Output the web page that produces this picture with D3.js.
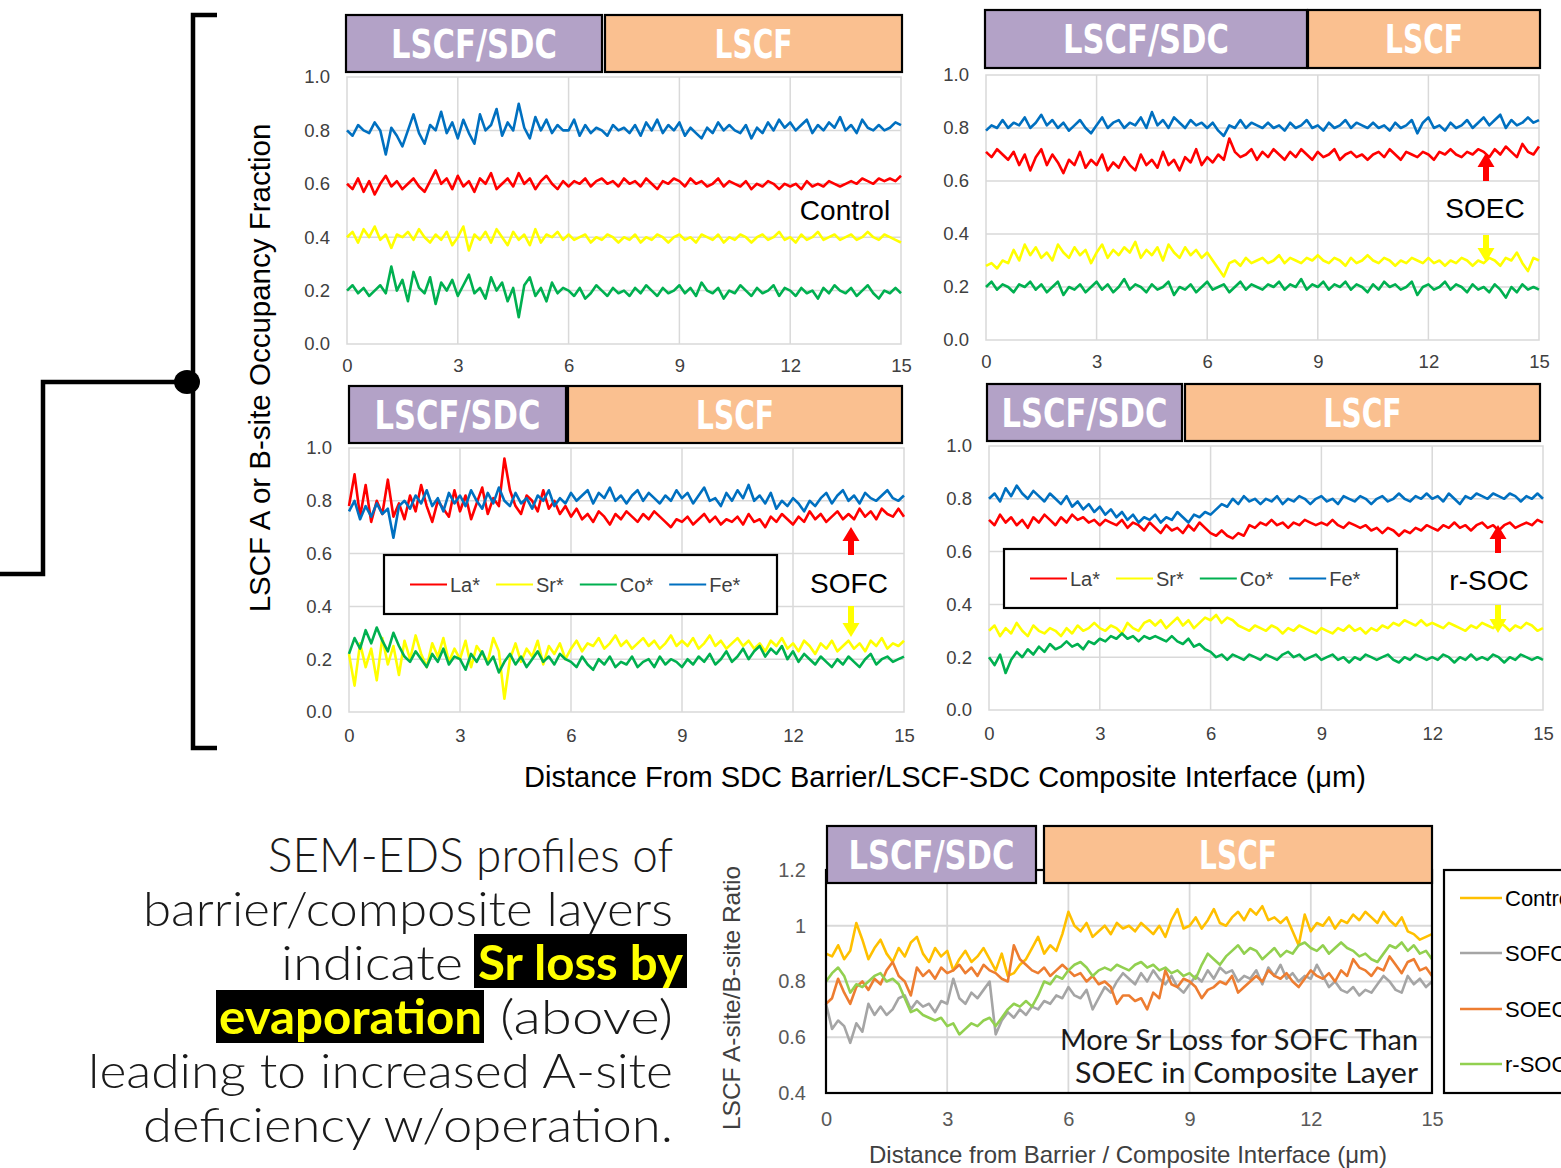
<!DOCTYPE html>
<html><head><meta charset="utf-8">
<script src="https://cdn.jsdelivr.net/npm/d3@7"></script>
<style>body{margin:0;background:#fff}svg{display:block}</style>
</head><body>
<svg id="c" width="1561" height="1168"></svg>
<script>
// ---------------- DATA ----------------
const layers = ['LSCF/SDC', 'LSCF'];
const elements = ['La*', 'Sr*', 'Co*', 'Fe*'];
const conditions = ['Control', 'SOFC', 'SOEC', 'r-SOC'];
const occTicks = [0, 0.2, 0.4, 0.6, 0.8, 1.0];
const distTicks = [0, 3, 6, 9, 12, 15];
const ratioTicks = [0.4, 0.6, 0.8, 1, 1.2];

// Control panel (samples every 0.15 um from 0 to 15)
const ctrlFe = [0.80,0.78,0.82,0.80,0.79,0.83,0.80,0.71,0.81,0.78, 0.74,0.80,0.86,0.79,0.75,0.82,0.80,0.87,0.79,0.83,
 0.77,0.84,0.79,0.75,0.86,0.80,0.82,0.88,0.78,0.83, 0.80,0.90,0.81,0.77,0.85,0.80,0.84,0.79,0.82,0.80,
 0.80,0.84,0.78,0.82,0.79,0.81,0.80,0.78,0.82,0.80, 0.81,0.79,0.82,0.78,0.83,0.80,0.84,0.79,0.82,0.80,
 0.83,0.78,0.81,0.79,0.77,0.81,0.79,0.83,0.80,0.82, 0.80,0.79,0.82,0.77,0.81,0.79,0.83,0.80,0.84,0.81,
 0.83,0.80,0.82,0.84,0.79,0.82,0.80,0.83,0.81,0.85, 0.80,0.82,0.79,0.84,0.81,0.80,0.82,0.80,0.81,0.83, 0.82];
const ctrlLa = [0.60,0.58,0.62,0.57,0.61,0.56,0.60,0.63,0.59,0.61, 0.58,0.60,0.62,0.59,0.57,0.61,0.65,0.60,0.62,0.58,
 0.63,0.59,0.61,0.57,0.62,0.60,0.64,0.58,0.60,0.62, 0.59,0.64,0.60,0.62,0.58,0.61,0.63,0.60,0.58,0.61,
 0.59,0.61,0.60,0.62,0.59,0.61,0.62,0.60,0.61,0.59, 0.62,0.60,0.61,0.59,0.62,0.60,0.58,0.61,0.60,0.62,
 0.61,0.59,0.62,0.60,0.61,0.59,0.60,0.62,0.59,0.61, 0.60,0.59,0.61,0.58,0.60,0.59,0.61,0.60,0.58,0.60,
 0.59,0.60,0.58,0.61,0.59,0.60,0.59,0.61,0.60,0.59, 0.60,0.61,0.60,0.62,0.61,0.60,0.62,0.61,0.62,0.61, 0.63];
const ctrlSr = [0.40,0.42,0.38,0.43,0.40,0.44,0.39,0.41,0.36,0.41, 0.40,0.42,0.39,0.43,0.40,0.38,0.41,0.39,0.42,0.37,
 0.40,0.44,0.35,0.41,0.39,0.42,0.38,0.43,0.40,0.37, 0.42,0.39,0.41,0.37,0.43,0.38,0.41,0.40,0.42,0.39,
 0.41,0.39,0.40,0.41,0.38,0.40,0.39,0.41,0.40,0.38, 0.40,0.39,0.41,0.38,0.40,0.39,0.41,0.40,0.38,0.40,
 0.41,0.39,0.40,0.38,0.41,0.40,0.39,0.41,0.38,0.40, 0.39,0.41,0.40,0.38,0.40,0.41,0.39,0.40,0.42,0.39,
 0.40,0.38,0.41,0.39,0.40,0.42,0.39,0.40,0.41,0.39, 0.40,0.41,0.39,0.40,0.42,0.40,0.39,0.41,0.40,0.39, 0.38];
const ctrlCo = [0.20,0.22,0.19,0.21,0.18,0.20,0.22,0.19,0.29,0.20, 0.24,0.16,0.27,0.21,0.19,0.25,0.15,0.23,0.20,0.24,
 0.18,0.22,0.26,0.19,0.21,0.17,0.25,0.20,0.23,0.16, 0.21,0.10,0.22,0.25,0.18,0.21,0.16,0.23,0.19,0.21,
 0.20,0.18,0.21,0.17,0.19,0.22,0.20,0.18,0.21,0.19, 0.20,0.18,0.21,0.19,0.22,0.20,0.18,0.21,0.19,0.20,
 0.22,0.19,0.21,0.18,0.23,0.20,0.19,0.21,0.17,0.20, 0.19,0.22,0.20,0.18,0.21,0.19,0.20,0.22,0.18,0.21,
 0.20,0.18,0.21,0.19,0.20,0.17,0.21,0.19,0.22,0.20, 0.19,0.21,0.18,0.20,0.22,0.19,0.17,0.20,0.19,0.21, 0.19];

// SOEC panel
const soecFe = [0.79,0.81,0.80,0.83,0.80,0.82,0.81,0.84,0.80,0.82, 0.85,0.81,0.83,0.80,0.82,0.79,0.81,0.83,0.80,0.78,
 0.81,0.84,0.80,0.82,0.83,0.80,0.82,0.81,0.84,0.80, 0.86,0.81,0.83,0.80,0.84,0.82,0.80,0.83,0.81,0.82,
 0.80,0.82,0.79,0.77,0.81,0.80,0.83,0.80,0.82,0.81, 0.80,0.82,0.80,0.81,0.79,0.82,0.80,0.81,0.83,0.80,
 0.81,0.79,0.82,0.80,0.81,0.83,0.80,0.82,0.81,0.80, 0.82,0.80,0.81,0.79,0.82,0.80,0.81,0.83,0.78,0.82,
 0.84,0.80,0.81,0.79,0.82,0.80,0.81,0.83,0.80,0.82, 0.84,0.81,0.83,0.85,0.80,0.83,0.81,0.82,0.84,0.82, 0.83];
const soecLa = [0.71,0.69,0.72,0.70,0.68,0.71,0.66,0.70,0.64,0.69, 0.72,0.66,0.70,0.67,0.63,0.68,0.66,0.71,0.65,0.68,
 0.66,0.70,0.64,0.67,0.65,0.69,0.66,0.64,0.70,0.66, 0.68,0.65,0.71,0.66,0.68,0.64,0.69,0.67,0.72,0.66,
 0.69,0.67,0.70,0.68,0.76,0.71,0.69,0.70,0.72,0.68, 0.71,0.69,0.72,0.70,0.68,0.71,0.69,0.72,0.70,0.68,
 0.71,0.69,0.70,0.72,0.68,0.70,0.71,0.69,0.70,0.68, 0.70,0.71,0.69,0.72,0.70,0.68,0.71,0.70,0.69,0.71,
 0.70,0.68,0.71,0.70,0.72,0.70,0.69,0.71,0.70,0.72, 0.71,0.69,0.72,0.70,0.73,0.71,0.69,0.74,0.71,0.70, 0.73];
const soecSr = [0.28,0.29,0.27,0.30,0.29,0.34,0.30,0.36,0.32,0.35, 0.31,0.33,0.30,0.36,0.33,0.31,0.35,0.32,0.34,0.29,
 0.33,0.36,0.31,0.34,0.32,0.35,0.33,0.37,0.31,0.34, 0.32,0.35,0.30,0.36,0.33,0.31,0.35,0.32,0.34,0.31,
 0.33,0.30,0.27,0.24,0.29,0.30,0.28,0.31,0.29,0.30, 0.31,0.29,0.30,0.32,0.29,0.31,0.30,0.29,0.31,0.30,
 0.32,0.30,0.29,0.31,0.30,0.28,0.31,0.29,0.30,0.32, 0.30,0.29,0.31,0.30,0.28,0.30,0.29,0.31,0.30,0.29,
 0.31,0.29,0.30,0.28,0.30,0.29,0.31,0.30,0.28,0.30, 0.29,0.31,0.30,0.28,0.31,0.30,0.33,0.29,0.26,0.31, 0.30];
const soecCo = [0.20,0.22,0.19,0.21,0.20,0.18,0.21,0.20,0.22,0.19, 0.21,0.18,0.20,0.22,0.17,0.20,0.19,0.21,0.18,0.20,
 0.22,0.19,0.21,0.18,0.20,0.23,0.19,0.21,0.20,0.18, 0.21,0.19,0.20,0.22,0.17,0.20,0.19,0.21,0.18,0.20,
 0.22,0.19,0.20,0.21,0.18,0.20,0.22,0.19,0.21,0.20, 0.19,0.21,0.20,0.22,0.19,0.21,0.20,0.23,0.19,0.21,
 0.20,0.22,0.19,0.21,0.20,0.22,0.19,0.21,0.20,0.18, 0.21,0.19,0.22,0.20,0.21,0.19,0.20,0.22,0.17,0.20,
 0.21,0.19,0.20,0.22,0.19,0.21,0.20,0.18,0.21,0.19, 0.20,0.18,0.21,0.19,0.16,0.20,0.18,0.21,0.19,0.20, 0.19];

// SOFC panel
const sofcFe = [0.76,0.80,0.73,0.78,0.74,0.79,0.75,0.77,0.66,0.78, 0.80,0.77,0.82,0.79,0.84,0.78,0.81,0.76,0.83,0.79,
 0.82,0.78,0.84,0.80,0.77,0.83,0.79,0.85,0.80,0.78, 0.83,0.79,0.81,0.77,0.82,0.80,0.84,0.78,0.81,0.79,
 0.83,0.80,0.82,0.84,0.79,0.83,0.81,0.85,0.80,0.82, 0.79,0.82,0.84,0.80,0.83,0.81,0.79,0.82,0.80,0.84,
 0.81,0.83,0.79,0.82,0.85,0.80,0.81,0.78,0.83,0.80, 0.84,0.81,0.86,0.80,0.82,0.79,0.83,0.77,0.80,0.78,
 0.81,0.79,0.76,0.80,0.78,0.81,0.83,0.79,0.82,0.84, 0.80,0.82,0.79,0.83,0.81,0.80,0.82,0.84,0.81,0.80, 0.82];
const sofcLa = [0.78,0.90,0.74,0.86,0.72,0.80,0.75,0.88,0.74,0.79, 0.73,0.82,0.76,0.86,0.78,0.72,0.80,0.77,0.74,0.84,
 0.76,0.82,0.73,0.79,0.85,0.75,0.81,0.78,0.96,0.84, 0.78,0.75,0.82,0.80,0.76,0.84,0.77,0.80,0.75,0.78,
 0.74,0.77,0.73,0.75,0.72,0.76,0.74,0.71,0.75,0.73, 0.76,0.74,0.72,0.75,0.73,0.76,0.74,0.72,0.70,0.73,
 0.72,0.74,0.71,0.73,0.75,0.72,0.74,0.71,0.73,0.72, 0.74,0.71,0.75,0.72,0.73,0.70,0.74,0.72,0.75,0.73,
 0.71,0.74,0.72,0.76,0.73,0.75,0.72,0.74,0.76,0.73, 0.75,0.73,0.77,0.74,0.76,0.73,0.77,0.75,0.74,0.77, 0.74];
const sofcSr = [0.22,0.10,0.26,0.17,0.24,0.12,0.28,0.18,0.25,0.14, 0.27,0.20,0.29,0.22,0.17,0.26,0.21,0.28,0.19,0.24,
 0.20,0.27,0.17,0.25,0.22,0.19,0.28,0.23,0.05,0.20, 0.26,0.19,0.24,0.21,0.27,0.18,0.25,0.22,0.26,0.20,
 0.24,0.27,0.23,0.26,0.25,0.28,0.24,0.26,0.29,0.25, 0.27,0.24,0.26,0.28,0.25,0.27,0.24,0.26,0.29,0.25,
 0.27,0.25,0.28,0.24,0.26,0.29,0.25,0.27,0.24,0.26, 0.28,0.25,0.27,0.24,0.26,0.23,0.27,0.25,0.28,0.24,
 0.26,0.23,0.27,0.25,0.22,0.26,0.24,0.27,0.23,0.25, 0.27,0.24,0.26,0.23,0.27,0.25,0.28,0.24,0.26,0.25, 0.27];
const sofcCo = [0.22,0.28,0.24,0.31,0.26,0.32,0.27,0.23,0.30,0.25, 0.21,0.19,0.23,0.20,0.17,0.22,0.19,0.24,0.18,0.21,
 0.20,0.16,0.22,0.19,0.23,0.18,0.21,0.15,0.19,0.22, 0.18,0.21,0.17,0.20,0.23,0.19,0.21,0.18,0.22,0.20,
 0.19,0.17,0.21,0.18,0.16,0.20,0.18,0.21,0.17,0.19, 0.18,0.21,0.17,0.19,0.20,0.17,0.21,0.18,0.20,0.19,
 0.17,0.20,0.18,0.21,0.19,0.22,0.18,0.20,0.23,0.19, 0.21,0.24,0.20,0.23,0.25,0.21,0.24,0.22,0.25,0.20,
 0.23,0.19,0.22,0.20,0.18,0.21,0.19,0.17,0.20,0.18, 0.21,0.19,0.17,0.20,0.22,0.18,0.20,0.21,0.19,0.20, 0.21];

// r-SOC panel
const rsocFe = [0.80,0.82,0.79,0.84,0.81,0.85,0.82,0.80,0.83,0.81, 0.79,0.82,0.80,0.78,0.81,0.77,0.79,0.76,0.78,0.75,
 0.77,0.74,0.76,0.73,0.75,0.72,0.74,0.71,0.73,0.72, 0.74,0.71,0.73,0.72,0.75,0.73,0.71,0.74,0.73,0.75,
 0.74,0.76,0.78,0.77,0.80,0.78,0.81,0.79,0.80,0.78, 0.80,0.79,0.81,0.78,0.80,0.79,0.81,0.80,0.78,0.80,
 0.81,0.79,0.80,0.78,0.81,0.80,0.79,0.81,0.80,0.78, 0.80,0.81,0.79,0.80,0.82,0.80,0.79,0.81,0.80,0.82,
 0.80,0.81,0.79,0.82,0.80,0.78,0.81,0.80,0.82,0.81, 0.80,0.82,0.81,0.80,0.82,0.81,0.79,0.81,0.80,0.82, 0.80];
const rsocLa = [0.72,0.70,0.74,0.71,0.73,0.70,0.72,0.69,0.73,0.71, 0.74,0.72,0.70,0.73,0.71,0.74,0.72,0.73,0.71,0.72,
 0.70,0.72,0.71,0.70,0.72,0.69,0.71,0.70,0.68,0.71, 0.69,0.67,0.70,0.68,0.69,0.67,0.70,0.68,0.71,0.69,
 0.67,0.66,0.68,0.66,0.65,0.67,0.66,0.70,0.69,0.71, 0.70,0.72,0.70,0.71,0.69,0.71,0.70,0.72,0.71,0.70,
 0.71,0.70,0.72,0.70,0.69,0.71,0.70,0.69,0.70,0.68, 0.69,0.67,0.69,0.68,0.66,0.68,0.67,0.69,0.68,0.70,
 0.69,0.68,0.70,0.69,0.71,0.69,0.70,0.68,0.70,0.71, 0.69,0.70,0.68,0.70,0.71,0.69,0.70,0.71,0.70,0.72, 0.71];
const rsocSr = [0.30,0.32,0.28,0.31,0.29,0.33,0.30,0.28,0.32,0.30, 0.29,0.31,0.30,0.28,0.31,0.29,0.32,0.30,0.31,0.33,
 0.31,0.30,0.32,0.31,0.29,0.33,0.31,0.30,0.33,0.34, 0.32,0.34,0.31,0.33,0.35,0.32,0.34,0.31,0.33,0.35,
 0.34,0.36,0.33,0.35,0.34,0.32,0.31,0.30,0.32,0.31, 0.30,0.32,0.31,0.29,0.31,0.30,0.32,0.31,0.30,0.29,
 0.31,0.30,0.29,0.31,0.30,0.32,0.30,0.31,0.29,0.31, 0.30,0.32,0.31,0.33,0.32,0.34,0.33,0.32,0.34,0.32,
 0.33,0.32,0.31,0.33,0.32,0.31,0.30,0.32,0.31,0.33, 0.32,0.31,0.33,0.32,0.30,0.32,0.31,0.33,0.32,0.30, 0.31];
const rsocCo = [0.20,0.17,0.21,0.14,0.19,0.22,0.20,0.23,0.21,0.24, 0.22,0.25,0.23,0.24,0.26,0.24,0.25,0.23,0.26,0.25,
 0.27,0.26,0.28,0.27,0.29,0.27,0.28,0.26,0.28,0.27, 0.28,0.27,0.26,0.28,0.26,0.25,0.27,0.24,0.25,0.23,
 0.22,0.20,0.21,0.19,0.21,0.20,0.19,0.21,0.20,0.19, 0.21,0.20,0.19,0.21,0.22,0.20,0.21,0.19,0.20,0.21,
 0.19,0.20,0.21,0.19,0.20,0.18,0.20,0.19,0.21,0.20, 0.19,0.20,0.21,0.19,0.18,0.20,0.19,0.21,0.20,0.19,
 0.20,0.19,0.21,0.20,0.18,0.20,0.19,0.21,0.19,0.20, 0.19,0.21,0.20,0.18,0.20,0.19,0.21,0.20,0.19,0.20, 0.19];

// A-site/B-site ratio
const ratioControl = [0.90,0.89,0.93,0.88,0.91,1.01,0.95,0.88,0.92,0.95, 0.90,0.87,0.92,0.89,0.94,0.96,0.90,0.87,0.92,0.89,
 0.91,0.84,0.88,0.91,0.87,0.89,0.92,0.88,0.84,0.90, 0.82,0.83,0.86,0.88,0.92,0.96,0.90,0.93,0.91,0.97,
 1.05,1.00,0.98,1.01,0.96,0.98,1.00,0.97,1.01,0.99, 1.00,0.98,1.01,0.99,0.97,1.00,0.96,1.02,1.06,0.99,
 1.00,1.03,0.99,1.02,1.06,1.01,1.00,1.03,1.05,1.02, 1.06,1.04,1.07,1.02,1.03,1.01,1.03,0.98,0.93,1.04,
 0.98,1.01,1.00,1.03,0.99,1.02,1.01,1.04,1.02,1.05, 1.03,1.01,1.05,1.02,1.00,1.03,0.98,0.97,0.95,0.96, 0.97];
const ratioSOFC = [0.72,0.63,0.66,0.64,0.58,0.65,0.62,0.72,0.68,0.71, 0.68,0.70,0.74,0.75,0.70,0.73,0.71,0.72,0.69,0.73,
 0.72,0.81,0.74,0.72,0.76,0.74,0.77,0.80,0.61,0.66, 0.69,0.67,0.70,0.68,0.71,0.70,0.73,0.72,0.75,0.74,
 0.78,0.75,0.74,0.77,0.70,0.74,0.78,0.76,0.80,0.83, 0.81,0.79,0.83,0.80,0.84,0.81,0.79,0.82,0.78,0.76,
 0.79,0.82,0.80,0.84,0.81,0.85,0.83,0.84,0.80,0.82, 0.81,0.84,0.79,0.85,0.82,0.86,0.81,0.83,0.80,0.82,
 0.81,0.86,0.82,0.78,0.80,0.77,0.76,0.78,0.75,0.77, 0.76,0.79,0.82,0.80,0.77,0.76,0.82,0.79,0.81,0.78, 0.80];
const ratioSOEC = [0.72,0.74,0.81,0.76,0.72,0.78,0.80,0.77,0.81,0.79, 0.84,0.87,0.82,0.80,0.75,0.85,0.82,0.84,0.81,0.85,
 0.83,0.84,0.86,0.83,0.85,0.82,0.86,0.84,0.83,0.81, 0.80,0.93,0.88,0.86,0.84,0.83,0.85,0.82,0.84,0.86,
 0.84,0.82,0.83,0.80,0.82,0.79,0.80,0.78,0.72,0.75, 0.75,0.73,0.74,0.70,0.76,0.74,0.84,0.79,0.78,0.81,
 0.80,0.78,0.74,0.77,0.78,0.80,0.79,0.82,0.76,0.78, 0.80,0.82,0.80,0.84,0.82,0.81,0.83,0.80,0.78,0.81,
 0.84,0.82,0.81,0.83,0.80,0.84,0.82,0.88,0.85,0.84, 0.82,0.85,0.84,0.89,0.86,0.83,0.87,0.88,0.84,0.85, 0.82];
const ratioRSOC = [0.80,0.83,0.85,0.82,0.76,0.79,0.78,0.80,0.82,0.83, 0.80,0.81,0.79,0.74,0.69,0.70,0.68,0.67,0.66,0.67,
 0.64,0.65,0.61,0.63,0.65,0.64,0.66,0.67,0.64,0.67, 0.70,0.72,0.71,0.73,0.71,0.75,0.80,0.79,0.82,0.81,
 0.84,0.86,0.87,0.85,0.82,0.84,0.85,0.84,0.86,0.85, 0.84,0.86,0.87,0.85,0.86,0.84,0.85,0.83,0.84,0.82,
 0.83,0.81,0.86,0.90,0.88,0.86,0.89,0.91,0.93,0.90, 0.92,0.91,0.88,0.90,0.92,0.89,0.91,0.90,0.93,0.94,
 0.92,0.91,0.93,0.90,0.92,0.94,0.92,0.91,0.89,0.90, 0.88,0.87,0.90,0.93,0.92,0.94,0.91,0.93,0.90,0.91, 0.88];

// ---------------- STYLE ----------------
const elemColors = ['#ff0000', '#ffff00', '#00b050', '#0070c0'];
const condColors = ['#ffc000', '#a5a5a5', '#ed7d31', '#92d050'];
const layerColors = ['#b3a2c7', '#fac090'];
const layerTextW = [166, 78];
const SANS = "'Liberation Sans', Arial, sans-serif";
const HEAD = "'Liberation Sans Narrow', 'DejaVu Sans Condensed', sans-serif";
const GOTH = "Lato, 'Open Sans', sans-serif";

const svg = d3.select('#c');

function headers(g, boxes, y0, y1) {
  boxes.forEach((b, i) => {
    g.append('rect').attr('x', b[0]).attr('y', y0).attr('width', b[1] - b[0]).attr('height', y1 - y0)
      .attr('fill', layerColors[i]).attr('stroke', '#000').attr('stroke-width', 2.2);
    g.append('text').attr('x', (b[0] + b[1]) / 2).attr('y', (y0 + y1) / 2 + 14)
      .attr('text-anchor', 'middle').attr('font-family', HEAD).attr('font-weight', 'bold')
      .attr('font-size', 39).attr('fill', '#fff')
      .attr('textLength', layerTextW[i]).attr('lengthAdjust', 'spacingAndGlyphs').text(layers[i]);
  });
}

function arrow(g, x, from, to, color) {
  const dir = to < from ? 1 : -1;
  const base = to + dir * 14;
  const p = d3.path();
  p.moveTo(x - 3, from); p.lineTo(x - 3, base); p.lineTo(x - 8.5, base); p.lineTo(x, to);
  p.lineTo(x + 8.5, base); p.lineTo(x + 3, base); p.lineTo(x + 3, from); p.closePath();
  g.append('path').attr('d', p.toString()).attr('fill', color);
}

const panels = [
  { x0: 347, x1: 901, y0: 77, y1: 344, hdr: [[346, 602], [605, 902]], hy: [15, 72], xpad: 15,
    label: 'Control', lx: 845, ly: 210, series: [ctrlLa, ctrlSr, ctrlCo, ctrlFe] },
  { x0: 986, x1: 1539, y0: 75, y1: 340, hdr: [[985, 1307], [1308, 1540]], hy: [10, 68], xpad: 15,
    label: 'SOEC', lx: 1485, ly: 208, ax: 1486, red: [181, 153], yel: [235, 262],
    series: [soecLa, soecSr, soecCo, soecFe] },
  { x0: 349, x1: 904, y0: 448, y1: 712, hdr: [[349, 566], [568, 902]], hy: [386, 443], xpad: 17,
    label: 'SOFC', lx: 849, ly: 583, ax: 851, red: [555, 527], yel: [606, 637],
    legend: [384, 555, 777, 614], series: [sofcLa, sofcSr, sofcCo, sofcFe] },
  { x0: 989, x1: 1543, y0: 446, y1: 710, hdr: [[987, 1182], [1185, 1540]], hy: [384, 441], xpad: 17,
    label: 'r-SOC', lx: 1489, ly: 580, ax: 1498, red: [553, 525], yel: [605, 633],
    legend: [1004, 549, 1397, 608], series: [rsocLa, rsocSr, rsocCo, rsocFe] }
];

panels.forEach(p => {
  const g = svg.append('g');
  const x = d3.scaleLinear().domain([0, 15]).range([p.x0, p.x1]);
  const y = d3.scaleLinear().domain([0, 1]).range([p.y1, p.y0]);
  g.selectAll('line.v').data(distTicks.slice(1, -1)).join('line').attr('class', 'v')
    .attr('x1', d => x(d)).attr('x2', d => x(d)).attr('y1', p.y0).attr('y2', p.y1)
    .attr('stroke', '#d9d9d9').attr('stroke-width', 1.5);
  g.selectAll('line.h').data(occTicks.slice(1, -1)).join('line').attr('class', 'h')
    .attr('x1', p.x0).attr('x2', p.x1).attr('y1', d => y(d)).attr('y2', d => y(d))
    .attr('stroke', '#d9d9d9').attr('stroke-width', 1.5);
  g.append('rect').attr('x', p.x0).attr('y', p.y0).attr('width', p.x1 - p.x0).attr('height', p.y1 - p.y0)
    .attr('fill', 'none').attr('stroke', '#d9d9d9').attr('stroke-width', 1.5);

  const ay = g.append('g').attr('transform', `translate(${p.x0},0)`)
    .call(d3.axisLeft(y).tickValues(occTicks).tickFormat(d3.format('.1f')).tickSize(0).tickPadding(17));
  const ax = g.append('g').attr('transform', `translate(0,${p.y1})`)
    .call(d3.axisBottom(x).tickValues(distTicks).tickSize(0).tickPadding(p.xpad));
  [ay, ax].forEach(a => {
    a.select('.domain').remove();
    a.selectAll('text').attr('font-family', SANS).attr('font-size', 18.5).attr('fill', '#404040');
  });

  const line = d3.line().x((d, i, arr) => x(i * 15 / (arr.length - 1))).y(d => y(d));
  p.series.forEach((s, i) => {
    g.append('path').attr('d', line(s)).attr('fill', 'none').attr('stroke', elemColors[i])
      .attr('stroke-width', 2.6).attr('stroke-linejoin', 'round');
  });

  headers(g, p.hdr, p.hy[0], p.hy[1]);

  g.append('text').attr('x', p.lx).attr('y', p.ly + 10).attr('text-anchor', 'middle')
    .attr('font-family', SANS).attr('font-size', 28).attr('fill', '#000').text(p.label);
  if (p.red) {
    arrow(g, p.ax, p.red[0], p.red[1], '#ff0000');
    arrow(g, p.ax, p.yel[0], p.yel[1], '#ffff00');
  }
  if (p.legend) {
    const [lx0, ly0, lx1, ly1] = p.legend;
    g.append('rect').attr('x', lx0).attr('y', ly0).attr('width', lx1 - lx0).attr('height', ly1 - ly0)
      .attr('fill', '#fff').attr('stroke', '#000').attr('stroke-width', 2.2);
    const cy = (ly0 + ly1) / 2;
    let cx = lx0 + 26;
    elements.forEach((e, i) => {
      g.append('line').attr('x1', cx).attr('x2', cx + 37).attr('y1', cy).attr('y2', cy)
        .attr('stroke', elemColors[i]).attr('stroke-width', 2.2);
      const t = g.append('text').attr('x', cx + 40).attr('y', cy + 7).attr('font-family', SANS)
        .attr('font-size', 20).attr('fill', '#404040').text(e);
      cx += 40 + t.node().getComputedTextLength() + 16;
    });
  }
});

// shared axis titles
svg.append('text').attr('transform', 'translate(270,368) rotate(-90)').attr('text-anchor', 'middle')
  .attr('font-family', SANS).attr('font-size', 29.5).attr('fill', '#000')
  .text('LSCF A or B-site Occupancy Fraction');
svg.append('text').attr('x', 945).attr('y', 787).attr('text-anchor', 'middle')
  .attr('font-family', SANS).attr('font-size', 29).attr('fill', '#000')
  .text('Distance From SDC Barrier/LSCF-SDC Composite Interface (μm)');

// bracket
svg.append('path').attr('d', 'M217,15 H193 V748 H217').attr('fill', 'none').attr('stroke', '#000').attr('stroke-width', 4.5);
svg.append('path').attr('d', 'M187,382 H43 V574 H0').attr('fill', 'none').attr('stroke', '#000').attr('stroke-width', 4.5);
svg.append('ellipse').attr('cx', 187).attr('cy', 382).attr('rx', 13).attr('ry', 12).attr('fill', '#000');

// ---------------- ratio chart ----------------
{
  const R = { x0: 826, x1: 1432, y0: 870, y1: 1093 };
  const g = svg.append('g');
  const x = d3.scaleLinear().domain([0, 15]).range([R.x0, R.x1]);
  const y = d3.scaleLinear().domain([0.4, 1.2]).range([R.y1, R.y0]);
  g.selectAll('line.v').data(distTicks.slice(1, -1)).join('line').attr('class', 'v')
    .attr('x1', d => x(d)).attr('x2', d => x(d)).attr('y1', R.y0).attr('y2', R.y1)
    .attr('stroke', '#d9d9d9').attr('stroke-width', 1.8);
  g.selectAll('line.h').data(ratioTicks.slice(1, -1)).join('line').attr('class', 'h')
    .attr('x1', R.x0).attr('x2', R.x1).attr('y1', d => y(d)).attr('y2', d => y(d))
    .attr('stroke', '#d9d9d9').attr('stroke-width', 1.8);

  const ay = g.append('g').attr('transform', `translate(${R.x0},0)`)
    .call(d3.axisLeft(y).tickValues(ratioTicks).tickFormat(d => String(d)).tickSize(0).tickPadding(20));
  const ax = g.append('g').attr('transform', `translate(0,${R.y1})`)
    .call(d3.axisBottom(x).tickValues(distTicks).tickSize(0).tickPadding(19));
  [ay, ax].forEach(a => {
    a.select('.domain').remove();
    a.selectAll('text').attr('font-family', SANS).attr('font-size', 20).attr('fill', '#595959');
  });

  const line = d3.line().x((d, i, arr) => x(i * 15 / (arr.length - 1))).y(d => y(d));
  [ratioControl, ratioSOFC, ratioSOEC, ratioRSOC].forEach((s, i) => {
    g.append('path').attr('d', line(s)).attr('fill', 'none').attr('stroke', condColors[i])
      .attr('stroke-width', 2.6).attr('stroke-linejoin', 'round');
  });
  g.append('rect').attr('x', R.x0).attr('y', R.y0).attr('width', R.x1 - R.x0).attr('height', R.y1 - R.y0)
    .attr('fill', 'none').attr('stroke', '#000').attr('stroke-width', 2.2);

  headers(g, [[827, 1036], [1044, 1432]], 826, 883);

  g.append('text').attr('x', 1418).attr('y', 1050).attr('text-anchor', 'end').attr('font-family', GOTH)
    .attr('font-size', 28).attr('fill', '#1a1a1a').attr('textLength', 358).attr('lengthAdjust', 'spacingAndGlyphs')
    .text('More Sr Loss for SOFC Than');
  g.append('text').attr('x', 1418).attr('y', 1083).attr('text-anchor', 'end').attr('font-family', GOTH)
    .attr('font-size', 28).attr('fill', '#1a1a1a').attr('textLength', 343).attr('lengthAdjust', 'spacingAndGlyphs')
    .text('SOEC in Composite Layer');

  g.append('text').attr('transform', 'translate(740,998) rotate(-90)').attr('text-anchor', 'middle')
    .attr('font-family', SANS).attr('font-size', 24.5).attr('fill', '#404040').text('LSCF A-site/B-site Ratio');
  g.append('text').attr('x', 1128).attr('y', 1163).attr('text-anchor', 'middle')
    .attr('font-family', SANS).attr('font-size', 24).attr('fill', '#404040')
    .text('Distance from Barrier / Composite Interface (μm)');

  // legend (cut by the right edge, as in the reference)
  g.append('rect').attr('x', 1444).attr('y', 870).attr('width', 140).attr('height', 223)
    .attr('fill', '#fff').attr('stroke', '#000').attr('stroke-width', 2.2);
  const ly = [898, 953, 1009, 1064];
  conditions.forEach((c, i) => {
    g.append('line').attr('x1', 1460).attr('x2', 1502).attr('y1', ly[i]).attr('y2', ly[i])
      .attr('stroke', condColors[i]).attr('stroke-width', 2.5);
    g.append('text').attr('x', 1505).attr('y', ly[i] + 8).attr('font-family', SANS)
      .attr('font-size', 22).attr('fill', '#000').text(c);
  });
}

// ---------------- text block ----------------
{
  const g = svg.append('g').attr('font-family', GOTH).attr('font-size', 48).attr('fill', '#1a1a1a').attr('font-weight', 300);
  const put = (txt, xr, yb, w, anchor = 'end', extra) => {
    const t = g.append('text').attr('x', xr).attr('y', yb).attr('text-anchor', anchor)
      .attr('textLength', w).attr('lengthAdjust', 'spacingAndGlyphs').text(txt);
    if (extra) extra(t);
    return t;
  };
  put('SEM-EDS profiles of', 673, 872, 405);
  put('barrier/composite layers', 673, 926, 530);
  put('indicate', 463, 980, 182);
  g.append('rect').attr('x', 474).attr('y', 934).attr('width', 213).attr('height', 54).attr('fill', '#000');
  put('Sr loss by', 478, 980, 205, 'start', t => t.attr('fill', '#ffff00').attr('font-weight', 'bold'));
  g.append('rect').attr('x', 216).attr('y', 990).attr('width', 268).attr('height', 53).attr('fill', '#000');
  put('evaporation', 219, 1034, 263, 'start', t => t.attr('fill', '#ffff00').attr('font-weight', 'bold'));
  put('(above)', 673, 1034, 173);
  put('leading to increased A-site', 673, 1088, 585);
  put('deficiency w/operation.', 673, 1142, 530);
}
</script>
</body></html>
